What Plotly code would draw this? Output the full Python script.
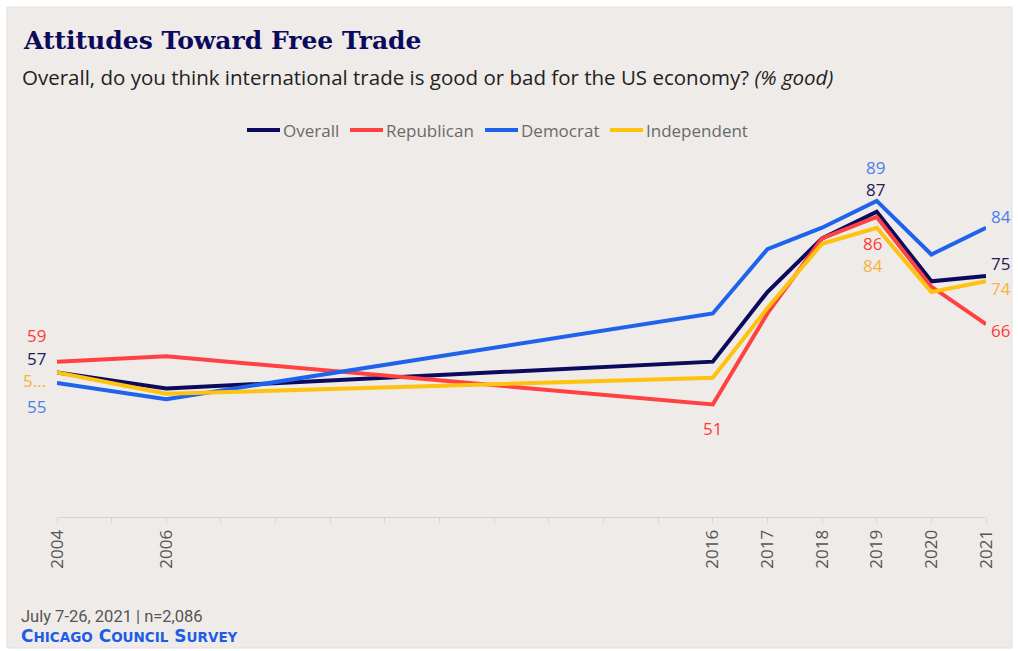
import plotly.graph_objects as go

# Survey years and share saying trade is good (%)
years = [2004, 2006, 2016, 2017, 2018, 2019, 2020, 2021]
overall = [57, 54, 59, 72, 82, 87, 74, 75]
republican = [59, 60, 51, 68, 82, 86, 73, 66]
democrat = [55, 52, 68, 80, 84, 89, 79, 84]
independent = [57, 53, 56, 69, 81, 84, 72, 74]

series_names = ["Overall", "Republican", "Democrat", "Independent"]
series_values = [overall, republican, democrat, independent]

line_colors = {
    "Overall": "#0b0a5c",
    "Republican": "#ff4141",
    "Democrat": "#1f62ec",
    "Independent": "#ffc20e",
}
label_colors = {
    "Overall": "#1c1b5e",
    "Republican": "#ff3a3a",
    "Democrat": "#4a80ea",
    "Independent": "#f7b33a",
}

W, H = 1018, 651
L, R, T, B = 57, 32, 142, 134

# Map pixel positions in the page to layout paper coordinates
pw, ph = W - L - R, H - T - B
def px_x(p):
    return (p - L) / pw
def px_y(p):
    return (H - B - p) / ph

fig = go.Figure()
for name, vals in zip(series_names, series_values):
    fig.add_trace(go.Scatter(
        x=years, y=vals, mode="lines", name=name,
        line=dict(color=line_colors[name], width=4),
        hoverinfo="x+y+name", showlegend=False,
    ))

# Value labels: (series, year index, text override, xanchor, xshift, yshift)
label_font = "Open Sans, Lato, sans-serif"
placements = [
    ("Republican", 0, None, "right", -9, 26),
    ("Overall", 0, None, "right", -9, 14),
    ("Independent", 0, "5...", "right", -9, -8),
    ("Democrat", 0, None, "right", -9, -23),
    ("Republican", 2, None, "center", 0, -24),
    ("Democrat", 5, None, "center", -1, 33),
    ("Overall", 5, None, "center", -1, 22),
    ("Republican", 5, None, "center", -4, -26),
    ("Independent", 5, None, "center", -4, -38),
    ("Democrat", 7, None, "left", 3, 11),
    ("Overall", 7, None, "left", 3, 12),
    ("Independent", 7, None, "left", 3, -7),
    ("Republican", 7, None, "left", 3, -6),
]
lookup = dict(zip(series_names, series_values))
annotations = []
for name, i, txt, anchor, dx, dy in placements:
    v = lookup[name][i]
    annotations.append(dict(
        x=years[i], y=v, xref="x", yref="y",
        text=txt if txt else str(v), showarrow=False,
        xanchor=anchor, yanchor="middle", xshift=dx, yshift=dy,
        font=dict(family=label_font, size=17, color=label_colors[name]),
    ))

# Title, subtitle and source lines
annotations += [
    dict(x=px_x(21), y=px_y(41), xref="paper", yref="paper", showarrow=False,
         xanchor="left", yanchor="middle",
         text="<b>Attitudes Toward Free Trade</b>",
         font=dict(family="DejaVu Serif, Liberation Serif, serif", size=25, color="#0b0a5c")),
    dict(x=px_x(20), y=px_y(77), xref="paper", yref="paper", showarrow=False,
         xanchor="left", yanchor="middle",
         text="Overall, do you think international trade is good or bad for the US economy? <i>(% good)</i>",
         font=dict(family="Open Sans, sans-serif", size=20.5, color="#222222")),
    dict(x=px_x(19), y=px_y(616), xref="paper", yref="paper", showarrow=False,
         xanchor="left", yanchor="middle",
         text="July 7-26, 2021 | n=2,086",
         font=dict(family="Liberation Sans Narrow, Roboto, sans-serif", size=16.5, color="#555555")),
    dict(x=px_x(19), y=px_y(636), xref="paper", yref="paper", showarrow=False,
         xanchor="left", yanchor="middle",
         text=("<b>C<span style='font-size:13.5px'>HICAGO</span> "
               "C<span style='font-size:13.5px'>OUNCIL</span> "
               "S<span style='font-size:13.5px'>URVEY</span></b>"),
         font=dict(family="DejaVu Sans, sans-serif", size=17, color="#1f5ce6")),
]

shapes = [
    dict(type="rect", xref="paper", yref="paper", layer="below",
         x0=px_x(7), x1=px_x(1012), y0=px_y(648), y1=px_y(7),
         fillcolor="#efebe8", line=dict(color="#e2dfdc", width=1)),
]

# Legend row: swatch start positions in page pixels
legend_x = [247, 350, 485, 610]
legend_y = 130
for name, x0 in zip(series_names, legend_x):
    shapes.append(dict(
        type="line", xref="paper", yref="paper",
        x0=px_x(x0), x1=px_x(x0 + 33), y0=px_y(legend_y), y1=px_y(legend_y),
        line=dict(color=line_colors[name], width=4),
    ))
    annotations.append(dict(
        x=px_x(x0 + 34), y=px_y(legend_y), xref="paper", yref="paper",
        text=name, showarrow=False, xanchor="left", yanchor="middle",
        font=dict(family="Open Sans, sans-serif", size=17, color="#6a6a6a"),
    ))

tick_years = list(range(2004, 2022))
tick_text = [str(y) if y in years else "" for y in tick_years]

fig.update_layout(
    width=W, height=H,
    margin=dict(l=L, r=R, t=T, b=B),
    paper_bgcolor="#ffffff",
    plot_bgcolor="rgba(0,0,0,0)",
    showlegend=False,
    xaxis=dict(
        range=[2004, 2021], tickmode="array", tickvals=tick_years, ticktext=tick_text,
        tickangle=-90, ticks="outside", ticklen=5, tickcolor="#d6d3d0",
        showline=True, linecolor="#d6d3d0", linewidth=1,
        showgrid=False, zeroline=False,
        tickfont=dict(family="Open Sans, sans-serif", size=17, color="#555555"),
    ),
    yaxis=dict(range=[30, 100], visible=False, showgrid=False, zeroline=False),
    annotations=annotations,
    shapes=shapes,
)

fig.write_html("out.html")
